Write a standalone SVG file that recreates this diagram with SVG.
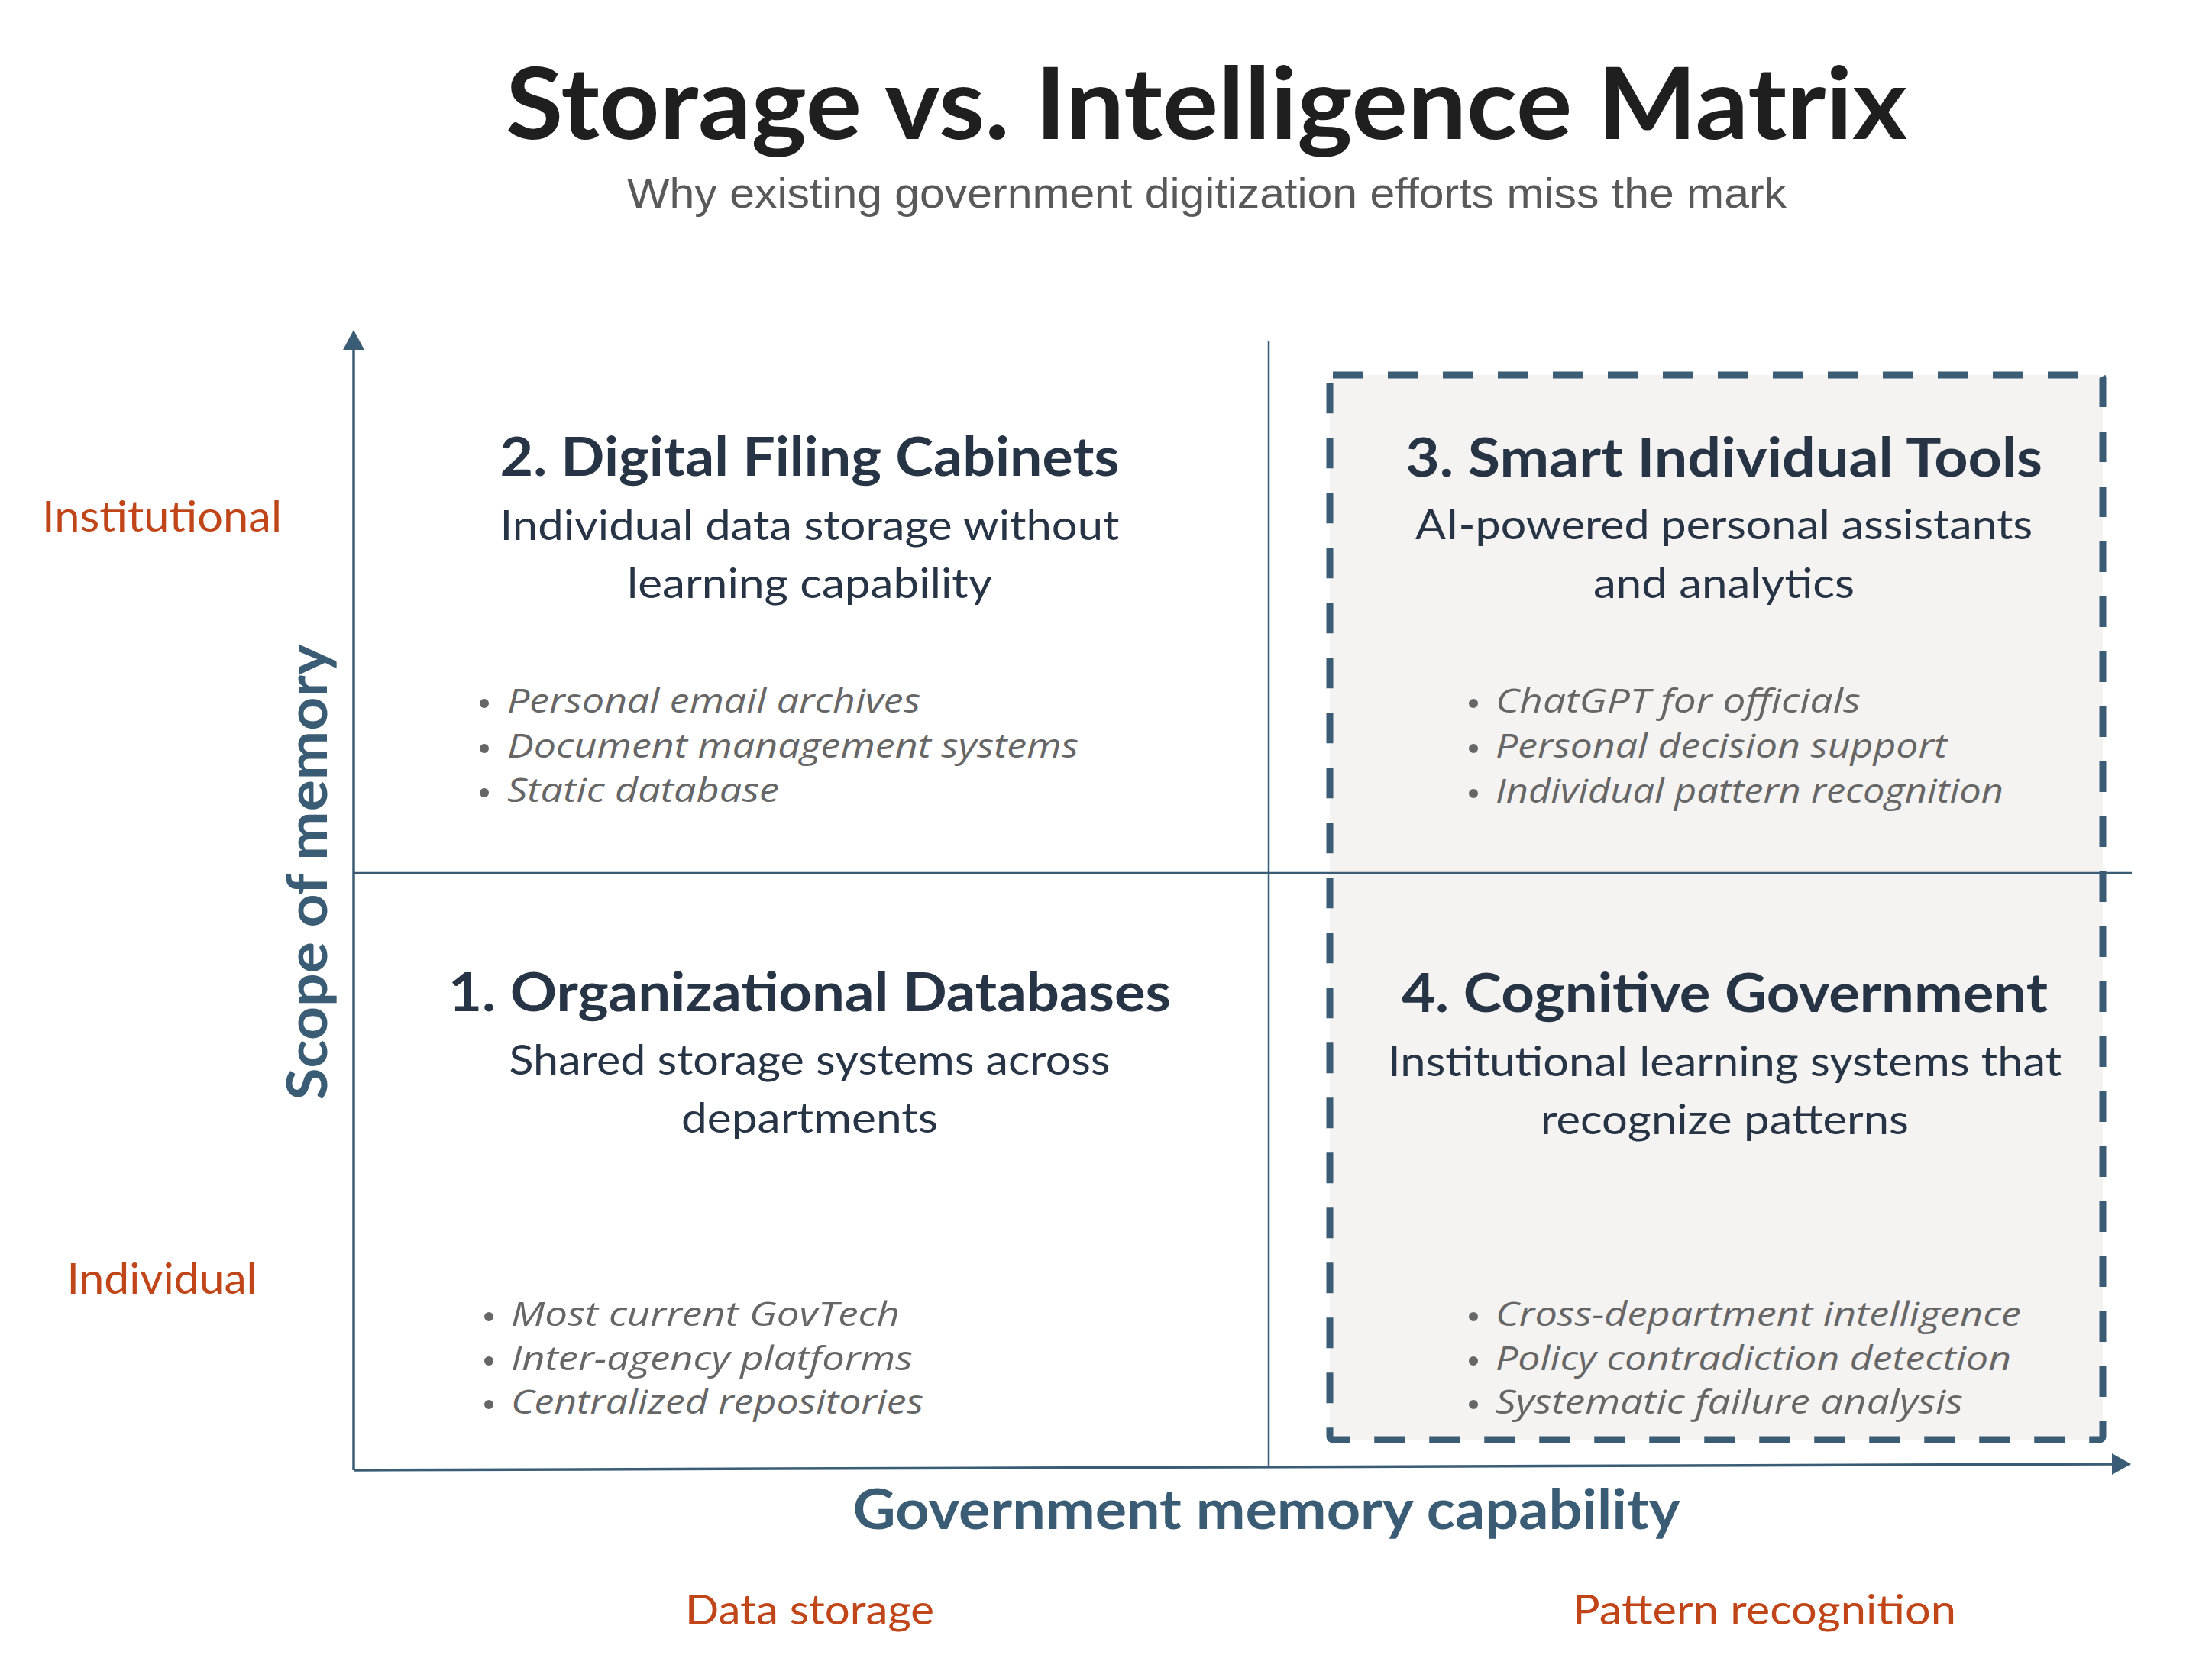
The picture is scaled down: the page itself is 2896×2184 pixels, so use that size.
<svg xmlns="http://www.w3.org/2000/svg" width="2896" height="2184" viewBox="0 0 2896 2184">
<style>
.title{font-family:Lato,"Open Sans",sans-serif;font-weight:700;fill:#1f1f1f}
.sub{font-family:"Liberation Sans",Arial,sans-serif;fill:#595959}
.qt{font-family:Lato,"Open Sans",sans-serif;font-weight:700;fill:#263445;text-anchor:middle}
.qs{font-family:Lato,"Open Sans",sans-serif;font-weight:400;fill:#263445;text-anchor:middle}
.bl{font-family:"Open Sans","Noto Sans",sans-serif;font-style:italic;fill:#666666;font-size:44px}
.dot{fill:#666666}
.ax{font-family:Lato,"Open Sans",sans-serif;font-weight:700;fill:#3a5c74}
.or{font-family:Lato,"Open Sans",sans-serif;fill:#c0461a;text-anchor:middle}
.line{stroke:#3a5c74;fill:none}
</style>
<rect width="2896" height="2184" fill="#ffffff"/>
<g id="header">
<text class="title" x="662" y="182" font-size="131" textLength="1835" lengthAdjust="spacingAndGlyphs">Storage vs. Intelligence Matrix</text>
<text class="sub" x="821" y="272" font-size="55" textLength="1518" lengthAdjust="spacingAndGlyphs">Why existing government digitization efforts miss the mark</text>
</g>
<g id="highlight-box">
<rect x="1741" y="491" width="1012" height="1394" rx="4" fill="#f4f3f2" stroke="#3a5c74" stroke-width="9" stroke-dasharray="40 32"/>
</g>
<g id="connectors">
<line class="line" x1="1661" y1="447" x2="1661" y2="1921" stroke-width="2.5"/>
<line class="line" x1="463" y1="1143" x2="2791" y2="1143" stroke-width="2.5"/>
<line class="line" x1="463" y1="452" x2="463" y2="1925" stroke-width="3.5"/>
<polygon points="463,432 449,458 477,458" fill="#3a5c74"/>
<line class="line" x1="463" y1="1925" x2="2770" y2="1917" stroke-width="3.5"/>
<polygon points="2790,1917 2765,1903 2765,1931" fill="#3a5c74"/>
</g>
<g id="q2">
<text class="qt" x="1060" y="623" font-size="70" textLength="811" lengthAdjust="spacingAndGlyphs">2. Digital Filing Cabinets</text>
<text class="qs" x="1060" y="707" font-size="54" textLength="811" lengthAdjust="spacingAndGlyphs">Individual data storage without</text>
<text class="qs" x="1060" y="783" font-size="54" textLength="478" lengthAdjust="spacingAndGlyphs">learning capability</text>
<circle class="dot" cx="634" cy="921" r="6"/>
<text class="bl" x="664" y="933" textLength="541" lengthAdjust="spacingAndGlyphs">Personal email archives</text>
<circle class="dot" cx="634" cy="980" r="6"/>
<text class="bl" x="664" y="992" textLength="748" lengthAdjust="spacingAndGlyphs">Document management systems</text>
<circle class="dot" cx="634" cy="1038" r="6"/>
<text class="bl" x="664" y="1050" textLength="356" lengthAdjust="spacingAndGlyphs">Static database</text>
</g>
<g id="q3">
<text class="qt" x="2257" y="624" font-size="70" textLength="834" lengthAdjust="spacingAndGlyphs">3. Smart Individual Tools</text>
<text class="qs" x="2257" y="706" font-size="54" textLength="808" lengthAdjust="spacingAndGlyphs">AI-powered personal assistants</text>
<text class="qs" x="2257" y="783" font-size="54" textLength="342" lengthAdjust="spacingAndGlyphs">and analytics</text>
<circle class="dot" cx="1929" cy="921" r="6"/>
<text class="bl" x="1958" y="933" textLength="478" lengthAdjust="spacingAndGlyphs">ChatGPT for officials</text>
<circle class="dot" cx="1929" cy="980" r="6"/>
<text class="bl" x="1958" y="992" textLength="591" lengthAdjust="spacingAndGlyphs">Personal decision support</text>
<circle class="dot" cx="1929" cy="1039" r="6"/>
<text class="bl" x="1958" y="1051" textLength="665" lengthAdjust="spacingAndGlyphs">Individual pattern recognition</text>
</g>
<g id="q1">
<text class="qt" x="1060" y="1324" font-size="70" textLength="946" lengthAdjust="spacingAndGlyphs">1. Organizational Databases</text>
<text class="qs" x="1060" y="1407" font-size="54" textLength="787" lengthAdjust="spacingAndGlyphs">Shared storage systems across</text>
<text class="qs" x="1060" y="1483" font-size="54" textLength="336" lengthAdjust="spacingAndGlyphs">departments</text>
<circle class="dot" cx="640" cy="1724" r="6"/>
<text class="bl" x="669" y="1736" textLength="509" lengthAdjust="spacingAndGlyphs">Most current GovTech</text>
<circle class="dot" cx="640" cy="1782" r="6"/>
<text class="bl" x="669" y="1794" textLength="526" lengthAdjust="spacingAndGlyphs">Inter-agency platforms</text>
<circle class="dot" cx="640" cy="1839" r="6"/>
<text class="bl" x="669" y="1851" textLength="540" lengthAdjust="spacingAndGlyphs">Centralized repositories</text>
</g>
<g id="q4">
<text class="qt" x="2258" y="1325" font-size="70" textLength="846" lengthAdjust="spacingAndGlyphs">4. Cognitive Government</text>
<text class="qs" x="2258" y="1409" font-size="54" textLength="882" lengthAdjust="spacingAndGlyphs">Institutional learning systems that</text>
<text class="qs" x="2258" y="1485" font-size="54" textLength="482" lengthAdjust="spacingAndGlyphs">recognize patterns</text>
<circle class="dot" cx="1929" cy="1724" r="6"/>
<text class="bl" x="1958" y="1736" textLength="688" lengthAdjust="spacingAndGlyphs">Cross-department intelligence</text>
<circle class="dot" cx="1929" cy="1782" r="6"/>
<text class="bl" x="1958" y="1794" textLength="675" lengthAdjust="spacingAndGlyphs">Policy contradiction detection</text>
<circle class="dot" cx="1929" cy="1839" r="6"/>
<text class="bl" x="1958" y="1851" textLength="612" lengthAdjust="spacingAndGlyphs">Systematic failure analysis</text>
</g>
<g id="axis-labels">
<text class="ax" x="428" y="1142" font-size="72" text-anchor="middle" transform="rotate(-90 428 1142)" textLength="597" lengthAdjust="spacingAndGlyphs">Scope of memory</text>
<text class="ax" x="1658" y="2002" font-size="72" text-anchor="middle" textLength="1083" lengthAdjust="spacingAndGlyphs">Government memory capability</text>
<text class="or" x="212" y="696" font-size="57" textLength="314" lengthAdjust="spacingAndGlyphs">Institutional</text>
<text class="or" x="212" y="1694" font-size="57" textLength="249" lengthAdjust="spacingAndGlyphs">Individual</text>
<text class="or" x="1060" y="2127" font-size="55" textLength="326" lengthAdjust="spacingAndGlyphs">Data storage</text>
<text class="or" x="2310" y="2127" font-size="55" textLength="502" lengthAdjust="spacingAndGlyphs">Pattern recognition</text>
</g>
</svg>
